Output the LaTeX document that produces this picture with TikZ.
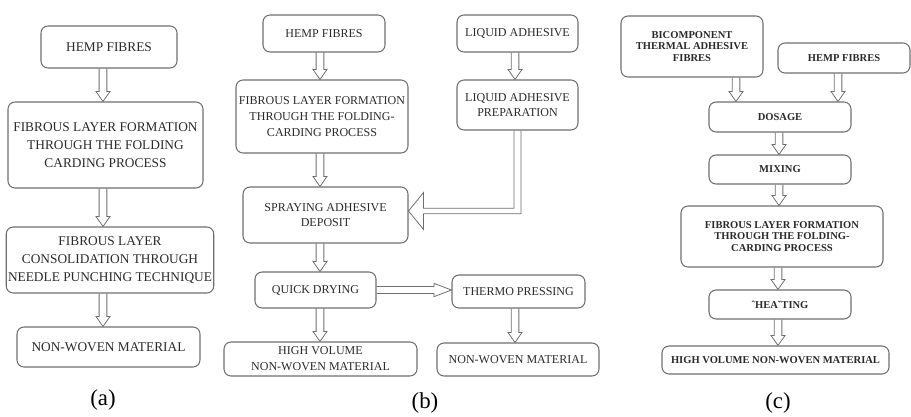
\documentclass[tikz,border=0pt]{standalone}
\usepackage{fontspec}
\setmainfont{Liberation Serif}
\usetikzlibrary{calc}

\definecolor{boxgray}{HTML}{6E6E6E}
\definecolor{inkgray}{HTML}{2A2A2A}
\tikzset{
  stage/.style={draw=boxgray, line width=0.6pt, rounded corners=4pt, align=center, text=inkgray, inner sep=1pt},
  sz/.style 2 args={minimum width=#1*0.02cm, minimum height=#2*0.02cm},
  fat/.style={draw=boxgray, line width=0.45pt, line join=miter},
  fa/.style={font=\fontsize{7.6}{10.4}\selectfont},
  fb/.style={font=\fontsize{6.85}{9}\selectfont},
  fc/.style={font=\bfseries\fontsize{6}{6.4}\selectfont},
}
% hollow downward arrow: [x offset]{from}{to}
\newcommand{\fatdown}[3][0]{%
  \draw[fat] let \p1=($(#2.south)+(#1,0)$), \p2=(#3.north) in
    (\x1-2.2pt,\y1) -- (\x1-2.2pt,\y2+5.7pt) -- (\x1-4pt,\y2+5.7pt) -- (\x1,\y2)
    -- (\x1+4pt,\y2+5.7pt) -- (\x1+2.2pt,\y2+5.7pt) -- (\x1+2.2pt,\y1);
}

\begin{document}
\begin{tikzpicture}[x=0.02cm, y=-0.02cm]
  \useasboundingbox (0,0) rectangle (911,416);
  % panel (a)
  \node[stage, fa, sz={136}{42}] (a1) at (109,47) {HEMP FIBRES};
  \node[stage, fa, sz={195}{86}] (a2) at (105.5,145)
    {FIBROUS LAYER FORMATION\\THROUGH THE FOLDING\\CARDING PROCESS};
  \node[stage, fa, sz={186}{66}] (a3) at (110,260)
    {FIBROUS LAYER\\CONSOLIDATION THROUGH\\NEEDLE PUNCHING TECHNIQUE};
  \node[stage, fa, sz={183}{40}] (a4) at (108.5,347) {NON-WOVEN MATERIAL};
  \fatdown[-6]{a1}{a2}
  \fatdown[-2.5]{a2}{a3}
  \fatdown[-7]{a3}{a4}
  \node[font=\fontsize{13}{15}\selectfont] (la) at (103,400) {(a)};
  % panel (b)
  \node[stage, fb, sz={122}{37}] (b1) at (324,33.5) {HEMP FIBRES};
  \node[stage, fb, sz={172}{73}] (b2) at (322,116.5)
    {FIBROUS LAYER FORMATION\\THROUGH THE FOLDING-\\CARDING PROCESS};
  \node[stage, fb, sz={165}{56}] (b3) at (325.5,215)
    {SPRAYING ADHESIVE\\DEPOSIT};
  \node[stage, fb, sz={121}{36}] (b4) at (315.5,290) {QUICK DRYING};
  \node[stage, fb, sz={193}{34}] (b5) at (320.5,359)
    {HIGH VOLUME\\NON-WOVEN MATERIAL};
  \node[stage, fb, sz={121}{37}] (b6) at (517.5,33.5) {LIQUID ADHESIVE};
  \node[stage, fb, sz={121}{50}] (b7) at (517.5,105)
    {LIQUID ADHESIVE\\PREPARATION};
  \node[stage, fb, sz={133}{33}] (b8) at (518.5,291.5) {THERMO PRESSING};
  \node[stage, fb, sz={162}{33}] (b9) at (518,359.5) {NON-WOVEN MATERIAL};
  \fatdown[-4]{b1}{b2}
  \fatdown[-2]{b2}{b3}
  \fatdown[-5.5]{b3}{b4}
  \fatdown[4.5]{b4}{b5}
  \fatdown[-2.5]{b6}{b7}
  \fatdown[-3.5]{b8}{b9}
  % drying to pressing
  \draw[fat] let \p1=(b4.east), \p2=(b8.west) in
    (\x1,\y1+2pt) -- (\x2-10pt,\y1+2pt) -- (\x2-10pt,\y1+3.8pt) -- (\x2,\y1)
    -- (\x2-10pt,\y1-3.8pt) -- (\x2-10pt,\y1-2pt) -- (\x1,\y1-2pt);
  % adhesive into spraying
  \draw[fat] let \p1=(b7.south), \p2=($(b3.east)+(0,-4)$) in
    (\x1-2pt,\y1) -- (\x1-2pt,\y2+1.6pt) -- (\x2+8.5pt,\y2+1.6pt) -- (\x2+8.5pt,\y2+10.5pt)
    -- (\x2,\y2) -- (\x2+8.5pt,\y2-10.5pt) -- (\x2+8.5pt,\y2-1.6pt) -- (\x1+2pt,\y2-1.6pt)
    -- (\x1+2pt,\y1);
  \node[font=\fontsize{13}{15}\selectfont] (lb) at (425,403) {(b)};
  % panel (c)
  \node[stage, fc, sz={142}{61}] (c1) at (692,46.5)
    {BICOMPONENT\\THERMAL ADHESIVE\\FIBRES};
  \node[stage, fc, sz={132}{30}] (c2) at (844,58) {HEMP FIBRES};
  \node[stage, fc, sz={142}{30}] (c3) at (780,117) {DOSAGE};
  \node[stage, fc, sz={142}{29}] (c4) at (780,169.5) {MIXING};
  \node[stage, fc, sz={202}{61}] (c5) at (782,236.5)
    {FIBROUS LAYER FORMATION\\THROUGH THE FOLDING-\\CARDING PROCESS};
  \node[stage, fc, sz={142}{29}] (c6) at (780,304.5) {ˆHEAˇTING};
  \node[stage, fc, sz={227}{28}] (c7) at (775.5,360)
    {HIGH VOLUME NON-WOVEN MATERIAL};
  \fatdown[44]{c1}{c3}
  \fatdown[-6]{c2}{c3}
  \fatdown[-1]{c3}{c4}
  \fatdown[-1]{c4}{c5}
  \fatdown[-4]{c5}{c6}
  \fatdown[-2]{c6}{c7}
  \node[font=\fontsize{13}{15}\selectfont] (lc) at (778,403) {(c)};
\end{tikzpicture}
\end{document}
